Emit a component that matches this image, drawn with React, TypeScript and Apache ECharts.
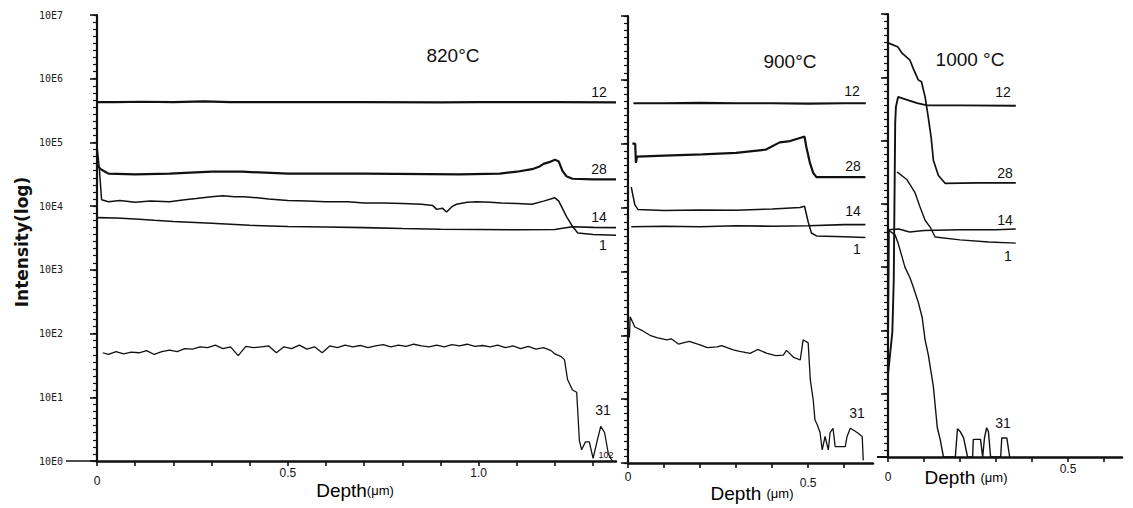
import { useEffect, useRef } from "react";
import * as echarts from "echarts";

type Pt = [number, number];

// ---------------- 820 °C panel (depth µm, intensity counts) ----------------
const p820_m12: Pt[] = [[0, 4.3e5], [0.05, 4.3e5], [0.12, 4.35e5], [0.2, 4.3e5], [0.28, 4.4e5], [0.35, 4.3e5], [0.5, 4.3e5], [0.7, 4.3e5], [0.9, 4.25e5], [1.0, 4.3e5], [1.2, 4.3e5], [1.36, 4.25e5]];
const p820_m28: Pt[] = [[0, 43600], [0.01, 38000], [0.03, 32400], [0.1, 31600], [0.19, 32400], [0.3, 34700], [0.38, 34700], [0.5, 32400], [0.7, 32400], [0.95, 31600], [1.055, 32400], [1.1, 34700], [1.14, 38000], [1.16, 42000], [1.17, 46000], [1.185, 49000], [1.2, 53700], [1.21, 50100], [1.22, 35500], [1.23, 29500], [1.246, 26900], [1.3, 26300], [1.36, 26300]];
const p820_m1: Pt[] = [[0, 87000], [0.006, 40000], [0.012, 12600], [0.03, 11700], [0.06, 12300], [0.1, 11500], [0.14, 12000], [0.19, 11700], [0.23, 12600], [0.26, 13200], [0.3, 14100], [0.33, 14500], [0.36, 14100], [0.385, 14100], [0.42, 13500], [0.45, 12900], [0.5, 12300], [0.55, 12000], [0.6, 11700], [0.657, 11700], [0.7, 11200], [0.75, 11200], [0.8, 11000], [0.85, 10700], [0.88, 10200], [0.89, 8900], [0.905, 9300], [0.916, 8100], [0.93, 9800], [0.942, 10700], [0.97, 11500], [0.995, 11700], [1.03, 11500], [1.06, 11200], [1.1, 11000], [1.14, 10700], [1.17, 12000], [1.2, 13500], [1.21, 12000], [1.23, 6900], [1.246, 4800], [1.26, 3800], [1.3, 3600], [1.36, 3500]];
const p820_m14: Pt[] = [[0, 6600], [0.05, 6500], [0.1, 6300], [0.15, 6000], [0.2, 5750], [0.3, 5400], [0.4, 5000], [0.5, 4800], [0.6, 4700], [0.7, 4600], [0.8, 4450], [0.9, 4350], [1.0, 4300], [1.1, 4250], [1.2, 4300], [1.22, 4500], [1.246, 4750], [1.3, 4650], [1.36, 4600]];
const p820_m31: Pt[] = [[0.015, 50], [0.03, 47], [0.05, 52], [0.07, 48], [0.09, 51], [0.11, 50], [0.13, 54], [0.15, 47], [0.17, 52], [0.19, 55], [0.21, 52], [0.23, 58], [0.25, 57], [0.27, 62], [0.29, 60], [0.31, 66], [0.33, 58], [0.35, 62], [0.37, 45], [0.39, 63], [0.41, 60], [0.43, 62], [0.45, 64], [0.47, 50], [0.49, 62], [0.51, 58], [0.53, 66], [0.55, 57], [0.57, 62], [0.59, 50], [0.61, 64], [0.63, 60], [0.65, 66], [0.67, 62], [0.69, 65], [0.71, 60], [0.73, 64], [0.75, 67], [0.77, 62], [0.79, 66], [0.81, 63], [0.83, 68], [0.85, 64], [0.87, 62], [0.89, 66], [0.91, 62], [0.93, 67], [0.95, 64], [0.97, 68], [0.99, 63], [1.01, 65], [1.03, 62], [1.05, 66], [1.07, 60], [1.09, 64], [1.11, 58], [1.13, 63], [1.15, 57], [1.17, 60], [1.19, 54], [1.2, 48], [1.215, 44], [1.225, 39], [1.233, 19], [1.246, 13], [1.257, 12], [1.264, 2.1], [1.27, 1.5], [1.28, 2], [1.29, 2], [1.3, 1.1], [1.31, 2], [1.32, 3.5], [1.33, 2.8], [1.34, 1.3], [1.35, 1]];

// ---------------- 900 °C panel ----------------
const p900_m12: Pt[] = [[0.015, 4.3e5], [0.1, 4.3e5], [0.2, 4.35e5], [0.3, 4.3e5], [0.4, 4.3e5], [0.5, 4.25e5], [0.6, 4.3e5], [0.66, 4.3e5]];
const p900_m28: Pt[] = [[0.012, 1.0e5], [0.02, 1.0e5], [0.022, 5.0e4], [0.025, 6.3e4], [0.1, 6.5e4], [0.206, 6.8e4], [0.3, 7.2e4], [0.383, 8.1e4], [0.421, 1.05e5], [0.45, 1.1e5], [0.477, 1.23e5], [0.49, 1.29e5], [0.495, 8.9e4], [0.505, 5.0e4], [0.514, 3.5e4], [0.523, 3.0e4], [0.6, 3.0e4], [0.659, 3.0e4]];
const p900_m1: Pt[] = [[0.009, 2.1e4], [0.019, 1.1e4], [0.028, 9.3e3], [0.1, 9.0e3], [0.2, 9.2e3], [0.3, 9.1e3], [0.4, 9.5e3], [0.477, 1.0e4], [0.49, 1.05e4], [0.5, 6.0e3], [0.509, 4.0e3], [0.523, 3.6e3], [0.6, 3.5e3], [0.659, 3.4e3]];
const p900_m14: Pt[] = [[0.009, 5.0e3], [0.1, 5.1e3], [0.2, 5.0e3], [0.3, 5.2e3], [0.4, 5.1e3], [0.5, 5.2e3], [0.6, 5.4e3], [0.659, 5.4e3]];
const p900_m31: Pt[] = [[0.004, 92], [0.006, 195], [0.019, 135], [0.04, 118], [0.061, 100], [0.08, 92], [0.108, 85], [0.12, 88], [0.14, 73], [0.153, 76], [0.17, 80], [0.2, 71], [0.22, 64], [0.247, 66], [0.26, 69], [0.292, 59], [0.31, 56], [0.339, 52], [0.36, 60], [0.386, 52], [0.41, 48], [0.431, 49], [0.44, 58], [0.46, 45], [0.478, 41], [0.486, 85], [0.5, 76], [0.506, 20], [0.514, 9.8], [0.519, 4.7], [0.525, 4.0], [0.533, 3.0], [0.539, 1.6], [0.547, 2.6], [0.556, 1.6], [0.561, 3.0], [0.569, 3.5], [0.575, 1.8], [0.603, 1.8], [0.608, 2.6], [0.617, 3.5], [0.636, 3.0], [0.65, 2.6], [0.653, 1.1]];

// ---------------- 1000 °C panel ----------------
const p1000_m28: Pt[] = [[0, 3.5e6], [0.028, 3.0e6], [0.039, 2.4e6], [0.061, 1.86e6], [0.07, 1.38e6], [0.084, 9.1e5], [0.093, 8.5e5], [0.103, 4.9e5], [0.112, 2.3e5], [0.12, 1.1e5], [0.126, 4.9e4], [0.14, 2.8e4], [0.159, 2.1e4], [0.25, 2.15e4], [0.355, 2.15e4]];
const p1000_m12: Pt[] = [[0, 20], [0.012, 93], [0.016, 630], [0.02, 1.9e5], [0.022, 3.4e5], [0.028, 4.9e5], [0.053, 4.4e5], [0.081, 3.9e5], [0.109, 3.6e5], [0.2, 3.6e5], [0.355, 3.55e5]];
const p1000_m1: Pt[] = [[0.025, 3.2e4], [0.053, 2.4e4], [0.075, 1.5e4], [0.089, 8.9e3], [0.103, 5.5e3], [0.117, 4.3e3], [0.131, 3.0e3], [0.2, 2.7e3], [0.28, 2.5e3], [0.355, 2.4e3]];
const p1000_m14: Pt[] = [[0, 3.9e3], [0.03, 4.0e3], [0.06, 3.6e3], [0.1, 3.8e3], [0.2, 3.9e3], [0.3, 3.9e3], [0.355, 4.0e3]];
const p1000_m31: Pt[] = [[0, 23], [0.003, 3.8e3], [0.02, 3.2e3], [0.028, 2.4e3], [0.039, 1.45e3], [0.047, 1.0e3], [0.061, 680], [0.07, 490], [0.084, 280], [0.095, 160], [0.103, 71], [0.112, 41], [0.126, 13], [0.137, 2.9], [0.145, 1.9], [0.154, 1], [0.187, 1], [0.193, 2.8], [0.201, 2.5], [0.21, 2.0], [0.221, 1], [0.235, 1], [0.237, 1.9], [0.257, 1.9], [0.263, 1], [0.268, 2], [0.274, 2.9], [0.279, 2.5], [0.285, 1], [0.313, 1], [0.316, 2], [0.33, 2], [0.338, 1]];

const panelTitles = ["820°C", "900°C", "1000 °C"];
const depthTitles = ["Depth(μm)", "Depth (μm)", "Depth (μm)"];
const depthMax = [1.36, 0.68, 0.65];
const massLabels = ["12", "28", "14", "1", "31"];

const INK = "#111111";
const FONT = "'Liberation Sans', Arial, sans-serif";

export default function App() {
  const ref = useRef<HTMLDivElement>(null);
  useEffect(() => {
    if (!ref.current) return;
    const chart = echarts.init(ref.current, undefined, { renderer: "svg" });

    const rects = [
      { left: 97, top: 15, width: 519, height: 446 },
      { left: 628, top: 16, width: 245, height: 447 },
      { left: 888, top: 14, width: 234, height: 443 },
    ];
    // grids 0-2 hold the data; grids 3-5 overlay them and only carry the minor tick marks
    const grids = [...rects, ...rects];

    const lbl = (v: number, raised: boolean) => {
      if (Math.abs(v) < 1e-6) return "{z|0}";
      if (Math.abs(v - 0.5) < 1e-6) return raised ? "{h|0.5}" : "0.5";
      if (Math.abs(v - 1) < 1e-6) return "1.0";
      return "";
    };
    const xAxes: any[] = rects.map((_, i) => ({
      type: "value",
      gridIndex: i,
      min: 0,
      max: depthMax[i],
      interval: 0.1,
      axisLine: { show: true, onZero: false, lineStyle: { color: INK, width: 2.5 } },
      axisTick: { show: true, inside: false, length: 5, lineStyle: { color: INK, width: 1.6 } },
      splitLine: { show: false },
      axisLabel: {
        margin: 6,
        fontSize: 12,
        fontFamily: FONT,
        color: INK,
        showMaxLabel: false,
        formatter: (v: number) => lbl(v, i === 1),
        rich: {
          z: { fontSize: 12, fontFamily: FONT, color: INK, padding: [i === 1 ? 2 : 8, 0, 0, 0] },
          h: { fontSize: 12, fontFamily: FONT, color: INK, padding: [8, 0, 0, 0] },
        },
      },
    }));
    rects.forEach((_, i) =>
      xAxes.push({
        type: "value",
        gridIndex: i + 3,
        min: 0,
        max: depthMax[i],
        show: false,
      })
    );

    const yAxes: any[] = rects.map((_, i) => ({
      type: "log",
      logBase: 10,
      gridIndex: i,
      min: 1,
      max: 1e7,
      position: "left",
      axisLine: { show: true, onZero: false, lineStyle: { color: INK, width: 2.2 } },
      axisTick: { show: true, inside: false, length: 7, lineStyle: { color: INK, width: 1.6 } },
      splitLine: { show: false },
      axisLabel: {
        show: i === 0,
        margin: 34,
        fontSize: 10,
        fontFamily: "'DejaVu Sans Mono', monospace",
        color: "#222",
        formatter: (v: number) => "10E" + Math.round(Math.log10(v)),
      },
    }));
    rects.forEach((_, i) =>
      yAxes.push({
        type: "value",
        gridIndex: i + 3,
        min: 0,
        max: 7,
        interval: 1,
        position: "left",
        axisLine: { show: false, onZero: false },
        axisTick: { show: true, inside: false, length: 4, lineStyle: { color: INK, width: 1.2 } },
        axisLabel: { show: false },
        splitLine: { show: false },
        minorTick: { show: true, splitNumber: 9, length: 4, lineStyle: { color: INK, width: 1.2 } },
      })
    );

    const mk = (data: Pt[], gi: number, width = 1.3) => ({
      type: "line",
      xAxisIndex: gi,
      yAxisIndex: gi,
      data,
      showSymbol: false,
      symbol: "none",
      lineStyle: { color: INK, width },
      itemStyle: { color: INK },
      z: 3,
      silent: true,
    });

    const series = [
      mk(p820_m12, 0, 2.2), mk(p820_m28, 0, 2.2), mk(p820_m1, 0, 1.5), mk(p820_m14, 0, 1.6), mk(p820_m31, 0, 1.3),
      mk(p900_m12, 1, 2.2), mk(p900_m28, 1, 2.2), mk(p900_m1, 1, 1.5), mk(p900_m14, 1, 1.6), mk(p900_m31, 1, 1.3),
      mk(p1000_m28, 2, 1.7), mk(p1000_m12, 2, 1.9), mk(p1000_m1, 2, 1.4), mk(p1000_m14, 2, 1.6), mk(p1000_m31, 2, 1.4),
    ];

    const t = (x: number, y: number, text: string, fontSize: number, extra: any = {}) => ({
      type: "text",
      x,
      y,
      silent: true,
      style: { text, fontSize, fontFamily: FONT, fill: INK, align: "center", verticalAlign: "middle", ...extra },
    });

    const labelPos = [
      [[599, 92], [599, 169], [599, 217], [603, 245], [603, 410]],
      [[852, 91], [853, 166], [853, 211], [857, 249], [857, 413]],
      [[1003, 92], [1005, 173], [1005, 220], [1008, 256], [1003, 423]],
    ];
    const graphic: any[] = [];
    labelPos.forEach((panel) =>
      panel.forEach((p, k) => graphic.push(t(p[0], p[1], massLabels[k], 14)))
    );
    graphic.push(t(453, 55, panelTitles[0], 19));
    graphic.push(t(790, 61, panelTitles[1], 19));
    graphic.push(t(970, 59, panelTitles[2], 19));
    graphic.push(t(606, 455, "102", 9));
    graphic.push({
      type: "text",
      x: 22,
      y: 242,
      rotation: Math.PI / 2,
      silent: true,
      style: { text: "Intensity(log)", fontSize: 17, fontWeight: "bold", fontFamily: "'DejaVu Sans', sans-serif", fill: INK, align: "center", verticalAlign: "middle" },
    });
    const depthTitle = (x: number, y: number, s: string) => {
      const k = s.indexOf("(");
      return {
        type: "text",
        x,
        y,
        silent: true,
        style: {
          text: "{a|" + s.slice(0, k) + "}{b|" + s.slice(k) + "}",
          align: "center",
          verticalAlign: "middle",
          rich: {
            a: { fontSize: 19, fontFamily: FONT, color: INK },
            b: { fontSize: 13, fontFamily: FONT, color: INK },
          },
        },
      };
    };
    graphic.push(depthTitle(355, 490, depthTitles[0]));
    graphic.push(depthTitle(752, 493, depthTitles[1]));
    graphic.push(depthTitle(966, 477, depthTitles[2]));
    // axis-line extensions to the left of the origins, as in the original plot
    graphic.push({ type: "line", silent: true, shape: { x1: 66, y1: 461, x2: 97, y2: 461 }, style: { stroke: INK, lineWidth: 1.5 } });
    graphic.push({ type: "line", silent: true, shape: { x1: 877, y1: 457, x2: 888, y2: 457 }, style: { stroke: INK, lineWidth: 2 } });

    chart.setOption({
      animation: false,
      backgroundColor: "#ffffff",
      grid: grids,
      xAxis: xAxes,
      yAxis: yAxes,
      series,
      graphic,
    });
    return () => chart.dispose();
  }, []);
  return <div ref={ref} style={{ position: "fixed", left: 0, top: 0, width: 1133, height: 508, background: "#fff" }} />;
}
